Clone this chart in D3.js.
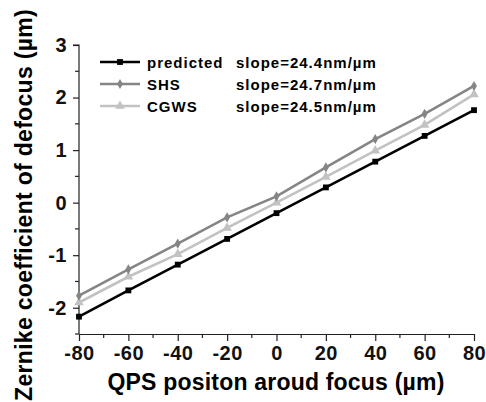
<!DOCTYPE html>
<html>
<head>
<meta charset="utf-8">
<script src="https://cdn.jsdelivr.net/npm/d3@7"></script>
<style>
  body { margin: 0; background: #fff; }
  text { font-family: "Liberation Sans", Arial, sans-serif; font-weight: bold; }
</style>
</head>
<body>
<div id="chart"></div>
<script>
// Data
var positions = [-80, -60, -40, -20, 0, 20, 40, 60, 80];
var predicted = [-2.17, -1.67, -1.18, -0.69, -0.20, 0.29, 0.78, 1.27, 1.76];
var shs = [-1.77, -1.27, -0.78, -0.28, 0.12, 0.67, 1.21, 1.69, 2.22];
var cgws = [-1.90, -1.41, -0.98, -0.48, 0.00, 0.49, 0.99, 1.48, 2.06];
var seriesNames = ["predicted", "SHS", "CGWS"];
var slopeLabels = ["slope=24.4nm/\u00b5m", "slope=24.7nm/\u00b5m", "slope=24.5nm/\u00b5m"];
var xTicks = [-80, -60, -40, -20, 0, 20, 40, 60, 80];
var yTicks = [-2, -1, 0, 1, 2, 3];

var svgWidth = 486;
var svgHeight = 402;

var margin = { top: 45, right: 12, bottom: 68, left: 79 };
var chartWidth = svgWidth - margin.left - margin.right;
var chartHeight = svgHeight - margin.top - margin.bottom;

var svg = d3.select("#chart")
  .append("svg")
  .attr("width", svgWidth)
  .attr("height", svgHeight);

var chartGroup = svg.append("g")
  .attr("transform", `translate(${margin.left}, ${margin.top})`);

var xScale = d3.scaleLinear().domain([-80, 80]).range([0, 395]);
var yScale = d3.scaleLinear().domain([-2.5, 3]).range([chartHeight, 0]);

// series styling
var styles = [
  { data: predicted, color: "#000000", symbol: d3.symbolSquare, size: 34 },
  { data: shs, color: "#858585", symbol: d3.symbolDiamond, size: 30 },
  { data: cgws, color: "#c2c2c2", symbol: d3.symbolTriangle, size: 40 }
];

// minor ticks
var xMinor = d3.range(-80, 81, 10);
var yMinor = d3.range(-2.5, 3.01, 0.5);

chartGroup.append("g")
  .attr("transform", `translate(0, ${chartHeight})`)
  .selectAll("line")
  .data(xMinor.filter(d => d % 20 !== 0))
  .enter()
  .append("line")
  .attr("x1", d => xScale(d)).attr("x2", d => xScale(d))
  .attr("y1", 0).attr("y2", 4)
  .attr("stroke", "#222").attr("stroke-width", 1.2);

chartGroup.append("g")
  .selectAll("line")
  .data(yMinor.filter(d => Math.abs(d % 1) > 0.01))
  .enter()
  .append("line")
  .attr("x1", 0).attr("x2", -4)
  .attr("y1", d => yScale(d)).attr("y2", d => yScale(d))
  .attr("stroke", "#222").attr("stroke-width", 1.2);

// axes (plain hyphen for negatives, like the original)
var plain = d => String(d);
var xAxis = d3.axisBottom(xScale).tickValues(xTicks).tickFormat(plain)
  .tickSize(7).tickSizeOuter(0).tickPadding(5);
var yAxis = d3.axisLeft(yScale).tickValues(yTicks).tickFormat(plain)
  .tickSize(6).tickSizeOuter(0).tickPadding(6);

var gx = chartGroup.append("g")
  .attr("transform", `translate(0, ${chartHeight})`)
  .call(xAxis);
var gy = chartGroup.append("g").call(yAxis);

[gx, gy].forEach(function(g) {
  g.selectAll("path, line").attr("stroke", "#222").attr("stroke-width", 1.2);
  g.selectAll("text").attr("font-size", "20px").attr("fill", "#111")
    .attr("letter-spacing", "0.5px");
});
gy.select(".domain").attr("d", `M0,${chartHeight}V0H-6`);

// lines
var drawLine = d3.line()
  .x((d, i) => xScale(positions[i]))
  .y(d => yScale(d));

styles.slice().reverse().forEach(function(s) {
  chartGroup.append("path")
    .attr("d", drawLine(s.data))
    .attr("fill", "none")
    .attr("stroke", s.color)
    .attr("stroke-width", 2.6);

  chartGroup.selectAll(null)
    .data(s.data)
    .enter()
    .append("path")
    .attr("d", d3.symbol().type(s.symbol).size(s.size))
    .attr("transform", (d, i) => `translate(${xScale(positions[i])}, ${yScale(d)})`)
    .attr("fill", s.color);
});

// legend
var legend = svg.append("g");
styles.forEach(function(s, i) {
  var y = 62 + i * 22;
  legend.append("line")
    .attr("x1", 100).attr("x2", 140)
    .attr("y1", y).attr("y2", y)
    .attr("stroke", s.color).attr("stroke-width", 2.6);
  legend.append("path")
    .attr("d", d3.symbol().type(s.symbol).size(s.size))
    .attr("transform", `translate(120, ${y})`)
    .attr("fill", s.color);
  legend.append("text")
    .attr("x", 147).attr("y", y + 5.5)
    .attr("font-size", "15px").attr("letter-spacing", "1px")
    .text(seriesNames[i]);
  legend.append("text")
    .attr("x", 236).attr("y", y + 5.5)
    .attr("font-size", "15px").attr("letter-spacing", "1px")
    .text(slopeLabels[i]);
});

// axis titles
svg.append("text")
  .attr("transform", "translate(276, 390)")
  .attr("text-anchor", "middle")
  .attr("font-size", "23px")
  .attr("letter-spacing", "0.2px")
  .text("QPS positon aroud focus (\u00b5m)");

svg.append("text")
  .attr("transform", "translate(32, 205) rotate(-90)")
  .attr("text-anchor", "middle")
  .attr("font-size", "23px")
  .attr("letter-spacing", "0.3px")
  .text("Zernike coefficient of defocus  (\u00b5m)");
</script>
</body>
</html>
